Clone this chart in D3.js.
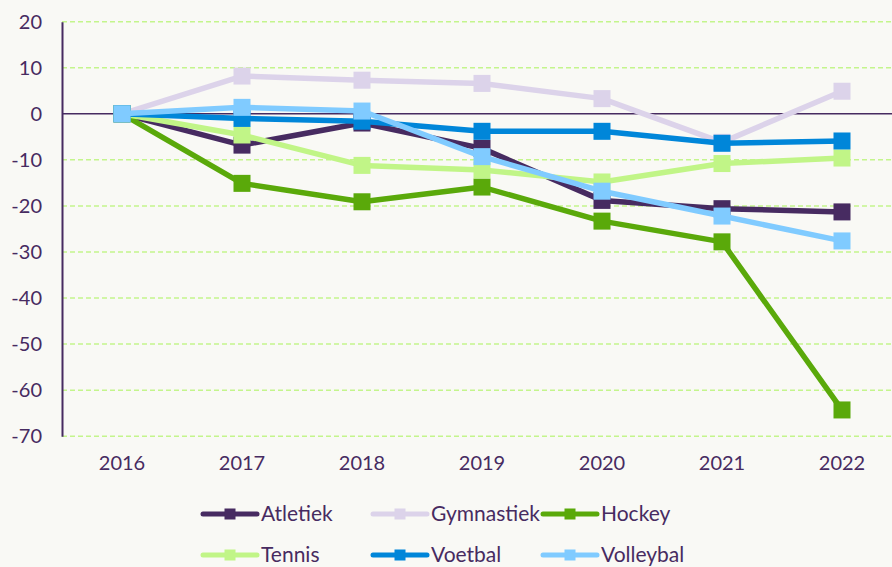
<!DOCTYPE html>
<html><head><meta charset="utf-8">
<script src="https://cdn.jsdelivr.net/npm/d3@7"></script>
<style>html,body{margin:0;padding:0;background:#f9f9f5;overflow:hidden}svg{display:block}</style>
</head><body><svg id="c" width="892" height="567"></svg>
<script>
const years = ["2016","2017","2018","2019","2020","2021","2022"];
const yTicks = [20,10,0,-10,-20,-30,-40,-50,-60,-70];
const seriesNames = ["Atletiek","Gymnastiek","Hockey","Tennis","Voetbal","Volleybal"];
const seriesColors = ["#472b61","#dcd3ea","#5aa90a","#c1f587","#0086d9","#80cbff"];
const atletiek   = [0, -6.8, -2.0, -7.5, -18.8, -20.6, -21.3];
const gymnastiek = [0,  8.2,  7.3,  6.6,   3.3,  -6.2,   4.9];
const hockey     = [0,-15.1,-19.1,-15.9, -23.3, -27.8, -64.3];
const tennis     = [0, -4.6,-11.2,-12.2, -14.8, -10.8,  -9.6];
const voetbal    = [0, -1.0, -1.6, -3.8,  -3.8,  -6.4,  -5.9];
const volleybal  = [0,  1.4,  0.6, -9.3, -16.8, -22.2, -27.6];
const seriesValues = [atletiek,gymnastiek,hockey,tennis,voetbal,volleybal];

const svg = d3.select("#c");
const font = "Lato, 'Open Sans', sans-serif";
const textColor = "#472b61";
svg.append("rect").attr("width",892).attr("height",567).attr("fill","#f9f9f5");

const x = d3.scaleBand().domain(years).range([62, 902]);
const y = d3.scaleLinear().domain([-70, 20]).range([436.2, 21.7]);
const cx = d => x(d) + x.bandwidth()/2;

// gridlines
svg.append("g").selectAll("line").data(yTicks.filter(t => t !== 0)).join("line")
  .attr("x1", 62).attr("x2", 892).attr("y1", d => y(d)).attr("y2", d => y(d))
  .attr("stroke", "#c4f58c").attr("stroke-width", 1.5).attr("stroke-dasharray", "5,3");

// y axis
const yAxis = svg.append("g").attr("transform","translate(62,0)")
  .call(d3.axisLeft(y).tickValues(yTicks).tickSize(0).tickPadding(20).tickFormat(d => String(d)));
yAxis.select(".domain").attr("stroke", textColor).attr("stroke-width", 2);
yAxis.selectAll("text").attr("font-family", font).attr("font-size", 20).attr("fill", textColor);

// zero line
svg.append("line").attr("x1",62).attr("x2",892).attr("y1",y(0)).attr("y2",y(0))
  .attr("stroke", textColor).attr("stroke-width", 1.6);

// x axis labels
const xAxis = svg.append("g").attr("transform","translate(0,436.2)")
  .call(d3.axisBottom(x).tickSize(0).tickPadding(20));
xAxis.select(".domain").remove();
xAxis.selectAll("text").attr("font-family", font).attr("font-size", 20).attr("fill", textColor);

// series
const line = d3.line().x((d,i) => cx(years[i])).y(d => y(d));
const ms = 17;
seriesValues.forEach((vals, si) => {
  const g = svg.append("g");
  g.append("path").datum(vals).attr("d", line).attr("fill","none")
    .attr("stroke", seriesColors[si]).attr("stroke-width", 5.5).attr("stroke-linejoin","round");
  g.selectAll("rect").data(vals).join("rect")
    .attr("x", (d,i) => cx(years[i]) - ms/2).attr("y", d => y(d) - ms/2)
    .attr("width", ms).attr("height", ms).attr("fill", seriesColors[si]);
});

// legend
const legX = [203, 373, 543];
const legY = [514, 555];
seriesNames.forEach((name, i) => {
  const lx = legX[i % 3], ly = legY[Math.floor(i / 3)];
  const g = svg.append("g");
  g.append("line").attr("x1", lx).attr("x2", lx + 54).attr("y1", ly).attr("y2", ly)
    .attr("stroke", seriesColors[i]).attr("stroke-width", 5).attr("stroke-linecap","round");
  g.append("rect").attr("x", lx + 27 - 5.5).attr("y", ly - 5.5).attr("width", 11).attr("height", 11)
    .attr("fill", seriesColors[i]);
  g.append("text").attr("x", lx + 58).attr("y", ly).attr("dy", "0.35em")
    .attr("font-family", font).attr("font-size", 21).attr("fill", textColor).text(name);
});
</script></body></html>
